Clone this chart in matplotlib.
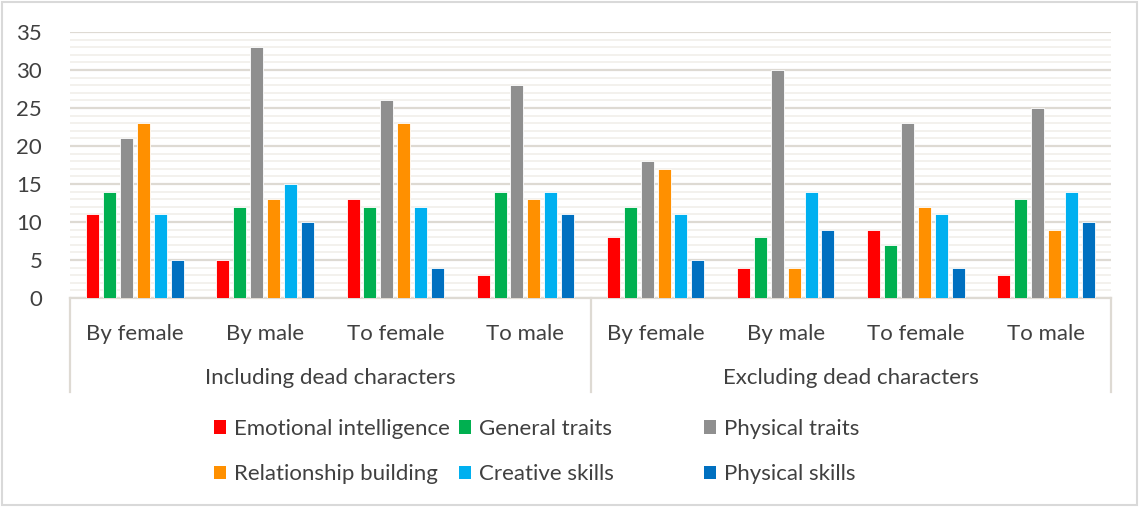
import numpy as np
import matplotlib
matplotlib.use("Agg")
import matplotlib.pyplot as plt
from matplotlib.patches import Patch, Rectangle

# --- datos ---
categorias = ["By female", "By male", "To female", "To male",
              "By female", "By male", "To female", "To male"]
grupos = ["Including dead characters", "Excluding dead characters"]

series = ["Emotional intelligence", "General traits", "Physical traits",
          "Relationship building", "Creative skills", "Physical skills"]

emotional = [11, 5, 13, 3, 8, 4, 9, 3]
general = [14, 12, 12, 14, 12, 8, 7, 13]
phys_traits = [21, 33, 26, 28, 18, 30, 23, 25]
relationship = [23, 13, 23, 13, 17, 4, 12, 9]
creative = [11, 15, 12, 14, 11, 14, 11, 14]
phys_skills = [5, 10, 4, 11, 5, 9, 4, 10]

colores = ["#FF0000", "#00B050", "#8F8F8F", "#FF9000", "#00B0F0", "#0070C0"]
TEXTO = "#404040"
REJILLA = "#DEDAD3"

plt.rcParams.update({"font.family": ["Lato", "DejaVu Sans"], "font.size": 16})

W, H = 1139, 507
fig = plt.figure(figsize=(W / 100, H / 100), dpi=100)
ax = fig.add_axes([70 / W, 1 - 298 / H, (1111 - 70) / W, (298 - 32) / H])

valores = [emotional, general, phys_traits, relationship, creative, phys_skills]
x = np.arange(len(categorias))
paso, ancho = 0.13, 0.10
for i, (vals, col, nom) in enumerate(zip(valores, colores, series)):
    ax.bar(x + (i - 2.5) * paso, vals, width=ancho, color=col,
           edgecolor="white", linewidth=0.6, label=nom, zorder=3)

ax.set_xlim(-0.5, len(categorias) - 0.5)
ax.set_ylim(0, 35)
ax.set_yticks(np.arange(0, 36, 5))
ax.set_yticks(np.arange(0, 36, 1), minor=True)
ax.grid(True, which="major", axis="y", color=REJILLA, lw=1.6, zorder=0)
ax.grid(True, which="minor", axis="y", color="#F1EFEA", lw=1.2, zorder=0)
ax.tick_params(axis="y", which="both", length=0, labelsize=16,
               labelcolor=TEXTO, pad=20)
ax.tick_params(axis="x", length=0, pad=19, labelsize=16, labelcolor=TEXTO)
ax.set_xticks(x)
ax.set_xticklabels(categorias)
for s in ["top", "right", "left"]:
    ax.spines[s].set_visible(False)
ax.spines["bottom"].set_color(REJILLA)
ax.spines["bottom"].set_linewidth(1.6)

# separadores de grupo y etiquetas de grupo
tr = ax.get_xaxis_transform()
for xs in [-0.5, 3.5, 7.5]:
    ax.plot([xs, xs], [0, -0.355], transform=tr, color=REJILLA,
            lw=1.6, clip_on=False)
for g, nombre in enumerate(grupos):
    ax.text(1.5 + 4 * g, -0.30, nombre, transform=tr, ha="center",
            va="center", fontsize=16, color=TEXTO)

# leyenda: tres columnas de dos filas
handles = [Patch(facecolor=c) for c in colores]
for j, xl in enumerate([214, 459, 704]):
    leg = fig.legend([handles[j], handles[j + 3]], [series[j], series[j + 3]],
                     loc="upper left", bbox_to_anchor=(xl / W, 1 - 419 / H),
                     frameon=False, fontsize=16, handlelength=0.55,
                     handleheight=0.55, handletextpad=0.35, labelspacing=1.13,
                     borderaxespad=0, borderpad=0)
    for t in leg.get_texts():
        t.set_color(TEXTO)

# borde exterior
fig.patches.append(Rectangle((2 / W, 2 / H), 1 - 4 / W, 1 - 4 / H,
                             transform=fig.transFigure, fill=False,
                             edgecolor="#D9D9D9", lw=1.5))

fig.savefig("out.png", dpi=100)
